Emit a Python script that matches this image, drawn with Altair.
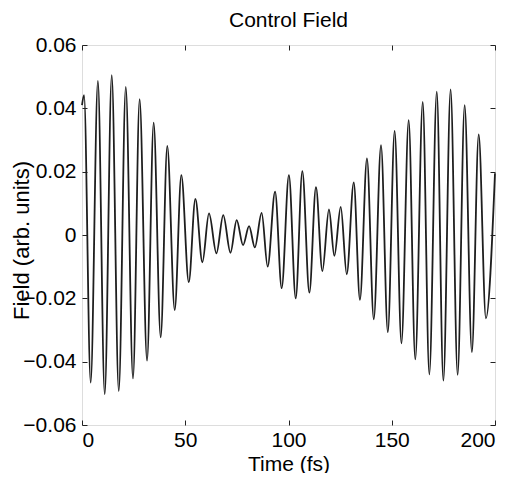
import altair as alt
import pandas as pd

# Extrema (peaks / troughs), in time order
time_fs = [0.0, 1.0, 4.2, 7.7, 11.0, 14.4, 17.8, 21.2, 24.7, 27.9, 31.5, 34.7,
           38.1, 41.3, 44.9, 48.1, 51.7, 54.9, 58.3, 61.5, 65.1, 68.4, 71.9,
           74.9, 78.0, 80.9, 83.7, 87.0, 89.9, 93.5, 96.7, 100.2, 103.5, 106.7,
           110.1, 113.3, 116.4, 119.6, 122.2, 125.3, 128.2, 131.6, 134.6, 138.0,
           141.3, 144.8, 148.1, 151.4, 154.7, 158.2, 161.4, 165.0, 168.2, 171.8,
           175.0, 178.5, 181.9, 185.3, 188.8, 192.1, 195.6, 200.0]
field = [0.041, 0.0442, -0.0466, 0.0487, -0.0503, 0.0505, -0.0493, 0.0468,
         -0.0453, 0.0429, -0.0397, 0.0355, -0.0323, 0.0281, -0.0237, 0.0189,
         -0.0149, 0.0114, -0.0086, 0.0068, -0.0058, 0.0063, -0.0056, 0.0047,
         -0.0032, 0.0028, -0.0039, 0.0070, -0.0100, 0.0137, -0.0168, 0.0189,
         -0.0200, 0.0202, -0.0182, 0.0151, -0.0114, 0.0081, -0.0066, 0.0089,
         -0.0124, 0.0166, -0.0205, 0.0242, -0.0266, 0.0284, -0.0307, 0.0329,
         -0.0342, 0.0363, -0.0393, 0.0420, -0.0440, 0.0453, -0.0460, 0.0460,
         -0.0442, 0.0410, -0.0370, 0.0318, -0.0263, 0.0195]

x_ticks = [0, 50, 100, 150, 200]
y_ticks = [-0.06, -0.04, -0.02, 0, 0.02, 0.04, 0.06]

df = pd.DataFrame({"t": time_fs, "f": field})

FONT = "Liberation Sans"
FS = 21
x_scale = alt.Scale(domain=[0, 200], nice=False, zero=False)
y_scale = alt.Scale(domain=[-0.06, 0.06], nice=False, zero=False)
y_label_expr = "abs(datum.value) < 1e-9 ? '0' : format(datum.value, '.2f')"

base = alt.Chart(df)

main = base.mark_line(color="#1e1e1e", strokeWidth=1.8, interpolate="monotone").encode(
    x=alt.X("t:Q", scale=x_scale,
            axis=alt.Axis(orient="bottom", values=x_ticks, title="Time (fs)",
                          offset=-5, tickSize=5, tickColor="#222", tickWidth=1,
                          labelPadding=4, domain=False, grid=False,
                          labelFont=FONT, labelFontSize=FS, labelColor="#000",
                          titleFont=FONT, titleFontSize=FS, titleFontWeight="normal",
                          titleColor="#000", titlePadding=3)),
    y=alt.Y("f:Q", scale=y_scale,
            axis=alt.Axis(orient="left", values=y_ticks, title="Field (arb. units)",
                          offset=-5, tickSize=5, tickColor="#222", tickWidth=1,
                          labelPadding=6, domain=False, grid=False,
                          labelExpr=y_label_expr,
                          labelFont=FONT, labelFontSize=FS, labelColor="#000",
                          titleFont=FONT, titleFontSize=22, titleFontWeight="normal",
                          titleColor="#000", titleX=-54, titleY=195)),
)

mirror = base.mark_line(opacity=0).encode(
    x=alt.X("t:Q", scale=x_scale,
            axis=alt.Axis(orient="top", values=x_ticks, title="", labels=False,
                          offset=-5, tickSize=5, tickColor="#222", tickWidth=1,
                          domain=False, grid=False)),
    y=alt.Y("f:Q", scale=y_scale,
            axis=alt.Axis(orient="right", values=y_ticks, title="", labels=False,
                          offset=-5, tickSize=5, tickColor="#222", tickWidth=1,
                          domain=False, grid=False)),
)

chart = alt.layer(main, mirror).resolve_axis(x="independent", y="independent").properties(
    width=413,
    height=380,
    autosize=alt.AutoSizeParams(type="none"),
    padding={"left": 74, "top": 37, "right": 22, "bottom": 48},
    title=alt.TitleParams("Control Field", font=FONT, fontSize=FS,
                          fontWeight="normal", color="#000", offset=3),
).configure_view(stroke="#222", strokeWidth=1.4).configure(background="white")

chart.save("out.html", embed_options={"renderer": "svg", "actions": False})
